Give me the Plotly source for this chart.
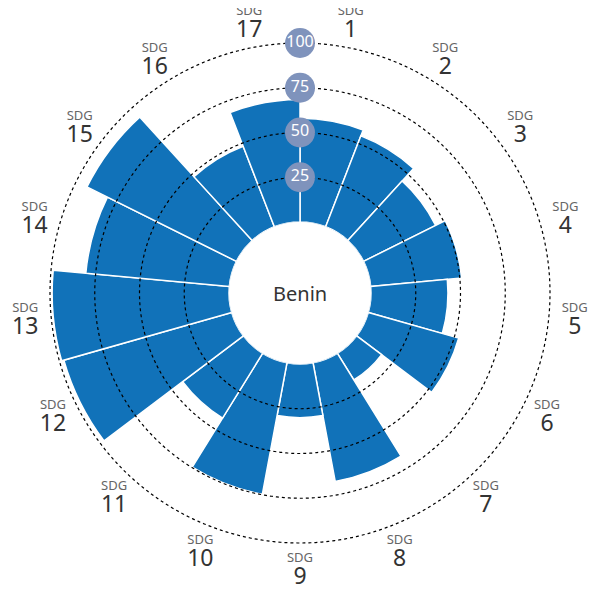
import numpy as np
import plotly.graph_objects as go

sdg_numbers = list(range(1, 18))
scores = [58, 54.5, 45, 51, 43, 52.5, 17.5, 67.5, 30, 74.7, 42.5, 97.5, 98.8, 80.5, 93.3, 48.3, 68.5]
ring_values = [25, 50, 75, 100]
country = "Benin"
label_r = 114.5

n = len(sdg_numbers)
step = 360.0 / n
thetas = [(i + 0.5) * step for i in range(n)]
label_text = [
    f"<span style='font-size:13px;color:#666666'>SDG</span><br><span style='font-size:23px;color:#333333'>{k}</span>"
    for k in sdg_numbers
]

fig = go.Figure()
fig.add_trace(go.Barpolar(
    r=scores, theta=thetas, width=[step] * n,
    marker=dict(color="#1172B9", line=dict(color="white", width=1.5)),
    hoverinfo="skip",
))
circle_theta = np.linspace(0, 360, 721)
for v in ring_values:
    fig.add_trace(go.Scatterpolar(
        r=[v] * len(circle_theta), theta=circle_theta, mode="lines",
        line=dict(color="black", width=1.2, dash="dot"), hoverinfo="skip",
    ))
fig.add_trace(go.Scatterpolar(
    r=ring_values, theta=[0] * len(ring_values), mode="markers+text",
    marker=dict(size=30, color="#7F93BC"),
    text=[str(v) for v in ring_values],
    textfont=dict(color="white", size=16, family="Noto Sans"),
    textposition="middle center", cliponaxis=False, hoverinfo="skip",
))
fig.add_trace(go.Scatterpolar(
    r=[label_r] * n, theta=thetas, mode="text", text=label_text,
    textfont=dict(size=17, family="Noto Sans", color="#333333"),
    textposition="middle center", cliponaxis=False, hoverinfo="skip",
))

px_per_unit = 1.79
hole_px = 71
rmax = 118
R = hole_px + rmax * px_per_unit
W, H = 590, 581
cx, cy_top = 292, 285
cy = H - cy_top
fig.update_layout(
    width=W, height=H, margin=dict(l=0, r=0, t=0, b=0),
    paper_bgcolor="white", plot_bgcolor="white", showlegend=False,
    font=dict(family="Noto Sans", color="#333333"),
    polar=dict(
        domain=dict(x=[(cx - R) / W, (cx + R) / W], y=[(cy - R) / H, (cy + R) / H]),
        hole=hole_px / R,
        bgcolor="white",
        radialaxis=dict(range=[0, rmax], showticklabels=False, ticks="",
                        showline=False, showgrid=False),
        angularaxis=dict(direction="clockwise", rotation=90, tickvals=thetas,
                         showticklabels=False, showgrid=False, showline=False, ticks="",
                         thetaunit="degrees"),
    ),
    annotations=[dict(text=country, x=cx / W, y=cy / H, xref="paper", yref="paper",
                      showarrow=False, font=dict(size=20, color="#333333"))],
)
fig.write_html("out.html")
